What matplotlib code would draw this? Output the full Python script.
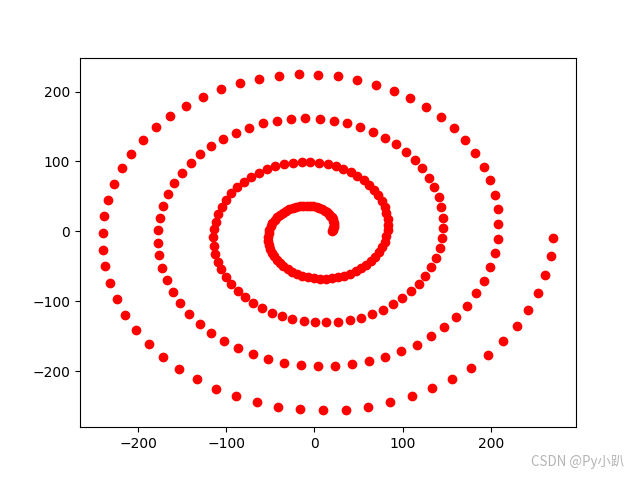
import matplotlib
matplotlib.use("Agg")
import matplotlib.pyplot as plt

# Spiral points, one list per turn
x_turn0 = [20.0, 20.9, 21.6, 22.0, 22.1, 21.9, 21.5, 20.7, 19.5, 18.0, 16.2, 14.1, 11.6, 8.8, 5.8, 2.5, -1.1, -4.8, -8.6, -12.6, -16.6, -20.7, -24.7, -28.7, -32.4, -36.1, -39.4, -42.5, -45.2, -47.6, -49.5, -51.0, -51.9, -52.3, -52.2, -51.5, -50.2, -48.3, -45.9, -42.8, -39.2, -35.1, -30.4, -25.3, -19.7, -13.7, -7.4, -0.8, 6.0, 12.9, 19.9, 26.8, 33.7, 40.5, 47.0, 53.2, 59.0, 64.3, 69.1, 73.3, 76.8, 79.7, 81.7]
y_turn0 = [0.0, 2.1, 4.4, 6.8, 9.3, 12.0, 14.7, 17.4, 20.1, 22.7, 25.2, 27.6, 29.8, 31.8, 33.5, 34.9, 36.0, 36.7, 37.0, 36.9, 36.4, 35.4, 34.0, 32.1, 29.7, 26.9, 23.7, 20.1, 16.1, 11.7, 7.1, 2.1, -3.0, -8.4, -13.8, -19.3, -24.8, -30.2, -35.5, -40.6, -45.4, -49.9, -54.0, -57.7, -60.9, -63.5, -65.6, -67.0, -67.7, -67.8, -67.1, -65.7, -63.6, -60.8, -57.2, -52.9, -48.0, -42.4, -36.2, -29.5, -22.4, -14.8, -6.8]

x_turn1 = [83.0, 83.4, 83.0, 81.7, 79.6, 76.5, 72.6, 67.9, 62.3, 56.0, 48.9, 41.2, 32.9, 24.1, 14.9, 5.3, -4.6, -14.6, -24.6, -34.6, -44.4, -54.0, -63.2, -72.0, -80.1, -87.6, -94.3, -100.2, -105.2, -109.2, -112.1, -114.0, -114.7, -114.2, -112.6, -109.8, -105.8, -100.7, -94.5, -87.2, -78.8, -69.6, -59.5, -48.6, -37.0, -24.9, -12.3, 0.6, 13.7, 26.8, 39.9, 52.7, 65.3, 77.3, 88.7, 99.4, 109.3, 118.2, 126.0, 132.6, 138.0, 142.0, 144.7]
y_turn1 = [1.4, 9.8, 18.3, 26.8, 35.2, 43.5, 51.5, 59.1, 66.4, 73.0, 79.1, 84.5, 89.1, 92.9, 95.9, 97.9, 98.9, 99.0, 98.0, 96.0, 92.9, 88.9, 83.9, 77.9, 71.0, 63.2, 54.6, 45.3, 35.4, 25.0, 14.1, 2.8, -8.7, -20.2, -31.8, -43.3, -54.5, -65.3, -75.7, -85.4, -94.4, -102.7, -110.0, -116.3, -121.5, -125.6, -128.4, -130.0, -130.3, -129.3, -126.9, -123.2, -118.2, -111.9, -104.4, -95.7, -85.9, -75.1, -63.4, -50.9, -37.6, -23.9, -9.6]

x_turn2 = [145.9, 145.8, 144.1, 140.9, 136.2, 130.1, 122.6, 113.7, 103.6, 92.3, 79.9, 66.5, 52.3, 37.4, 21.9, 6.0, -10.2, -26.4, -42.6, -58.6, -74.1, -89.1, -103.4, -116.8, -129.2, -140.4, -150.4, -158.9, -165.9, -171.3, -175.1, -177.1, -177.4, -175.8, -172.5, -167.4, -160.5, -151.9, -141.8, -130.0, -116.8, -102.4, -86.7, -69.9, -52.3, -34.0, -15.1, 4.1, 23.5, 42.8, 61.9, 80.6, 98.6, 115.9, 132.1, 147.2, 161.0, 173.2, 183.8, 192.7, 199.7, 204.8, 207.9]
y_turn2 = [4.9, 19.6, 34.3, 48.8, 63.1, 76.8, 90.0, 102.5, 114.1, 124.7, 134.1, 142.3, 149.2, 154.6, 158.6, 161.0, 161.8, 160.9, 158.5, 154.4, 148.6, 141.3, 132.5, 122.2, 110.6, 97.7, 83.7, 68.7, 52.8, 36.2, 19.0, 1.4, -16.4, -34.2, -51.8, -69.2, -86.0, -102.2, -117.5, -131.8, -144.8, -156.6, -167.0, -175.7, -182.8, -188.1, -191.5, -193.1, -192.7, -190.4, -186.1, -179.9, -171.8, -161.9, -150.3, -137.0, -122.3, -106.1, -88.7, -70.3, -50.9, -30.9, -10.3]

x_turn3 = [208.7, 207.9, 204.7, 199.4, 192.0, 182.6, 171.3, 158.2, 143.3, 126.9, 109.0, 89.9, 69.7, 48.6, 26.8, 4.6, -17.9, -40.4, -62.7, -84.6, -105.8, -126.1, -145.4, -163.3, -179.7, -194.5, -207.5, -218.5, -227.3, -234.0, -238.3, -240.3, -239.9, -237.1, -231.8, -224.2, -214.3, -202.1, -187.8, -171.4, -153.3, -133.4, -112.0, -89.4, -65.6, -41.0, -15.8, 9.7, 35.4, 60.9, 86.0, 110.4, 133.9, 156.2, 177.2, 196.5, 214.0, 229.4, 242.7, 253.6, 262.1, 268.0, 271.2]
y_turn3 = [10.5, 31.5, 52.4, 72.9, 92.8, 112.1, 130.3, 147.5, 163.3, 177.6, 190.3, 201.1, 210.0, 216.9, 221.7, 224.2, 224.6, 222.7, 218.5, 212.0, 203.4, 192.7, 179.9, 165.2, 148.7, 130.6, 111.0, 90.1, 68.2, 45.3, 21.8, -2.1, -26.2, -50.2, -73.9, -97.1, -119.5, -140.9, -161.0, -179.6, -196.6, -211.8, -225.0, -236.0, -244.7, -251.0, -254.8, -256.1, -254.9, -251.1, -244.7, -235.8, -224.4, -210.7, -194.8, -176.8, -156.9, -135.3, -112.1, -87.7, -62.1, -35.8, -8.9]

watermark = "CSDN @Py小趴"

x = x_turn0 + x_turn1 + x_turn2 + x_turn3
y = y_turn0 + y_turn1 + y_turn2 + y_turn3

fig = plt.figure(figsize=(6.4, 4.8), dpi=100)
ax = fig.add_subplot(111)
ax.plot(x, y, 'ro')

fig.text(0.976, 0.022, watermark, ha='right', va='bottom', color='#b4b4b4',
         fontsize=9.6, family=['Noto Sans CJK SC', 'DejaVu Sans'])

fig.savefig("out.png", dpi=100)
